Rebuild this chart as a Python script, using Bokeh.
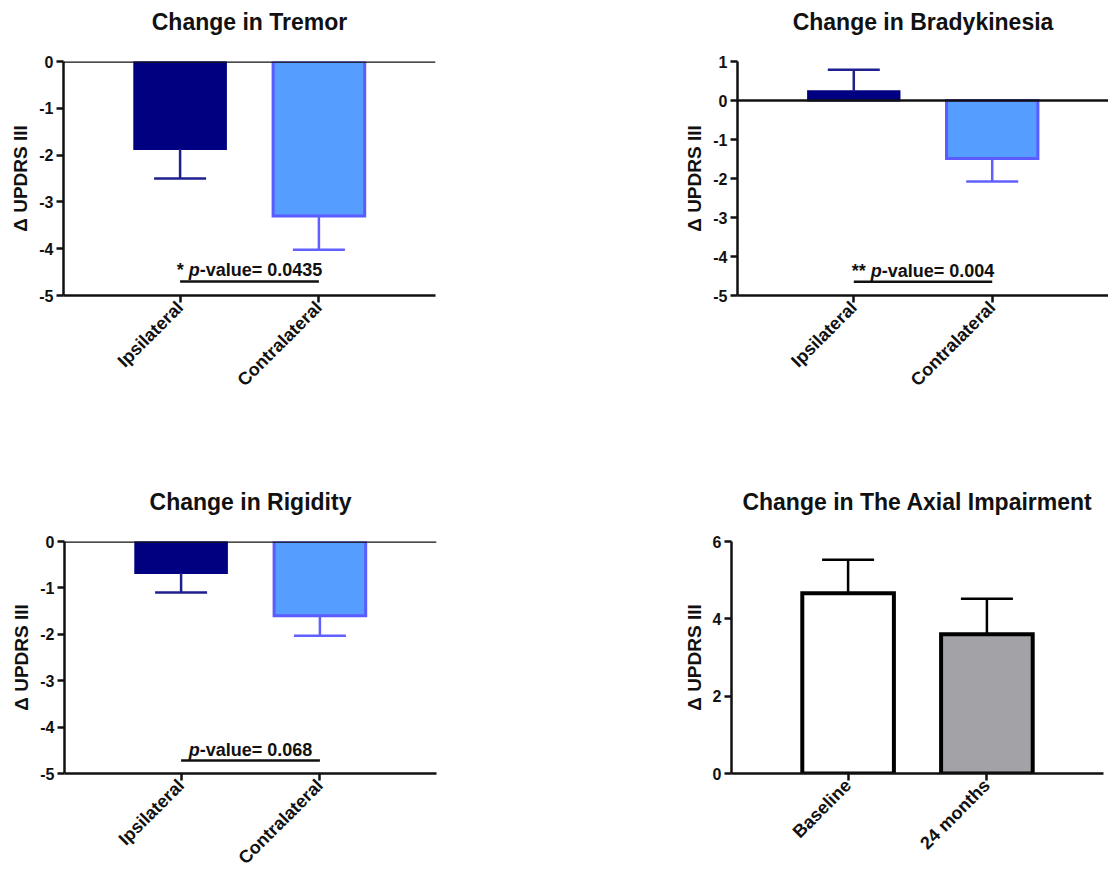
import math

from bokeh.core.properties import value
from bokeh.embed import file_html
from bokeh.layouts import column, row
from bokeh.models import (ColumnDataSource, FactorRange, FixedTicker, Range1d,
                          Span, TeeHead, Title, Whisker)
from bokeh.plotting import figure
from bokeh.resources import INLINE

FONT = "Liberation Sans"

# ---- data -------------------------------------------------------------
sides = ["Ipsilateral", "Contralateral"]

tremor_mean = [-1.87, -3.30]
tremor_sem = [0.63, 0.72]

brady_mean = [0.24, -1.49]
brady_sem = [0.55, 0.59]

rigidity_mean = [-0.68, -1.60]
rigidity_sem = [0.42, 0.43]

visits = ["Baseline", "24 months"]
axial_mean = [4.66, 3.60]
axial_sem = [0.87, 0.92]

# significance marker and p-value printed over each side comparison
tremor_p = ("*", "0.0435")
brady_p = ("**", "0.004")
rigidity_p = ("", "0.068")

tremor_ticks = [0, -1, -2, -3, -4, -5]
brady_ticks = [1, 0, -1, -2, -3, -4, -5]
rigidity_ticks = [0, -1, -2, -3, -4, -5]
axial_ticks = [0, 2, 4, 6]

# ---- styles -----------------------------------------------------------
SIDE_FILL = ["#000080", "#559dff"]
SIDE_LINE = ["#000080", "#5b5bff"]
SIDE_LW = [2, 3]
SIDE_ERR = ["#1f1f8f", "#6060ff"]

VISIT_FILL = ["#ffffff", "#a3a3a7"]
VISIT_LINE = ["#000000", "#000000"]
VISIT_LW = [4, 4]
VISIT_ERR = ["#000000", "#000000"]

# approximate advance widths (em) of Liberation Sans Bold, for laying out
# the mixed upright / italic p-value caption
EM = {c: 0.556 for c in "0123456789"}
EM.update({".": 0.278, "-": 0.333, "v": 0.556, "a": 0.556, "l": 0.278,
           "u": 0.611, "e": 0.556, "=": 0.584, " ": 0.278, "*": 0.389,
           "p": 0.611})


def text_width(s, size):
    return sum(EM.get(c, 0.556) for c in s) * size


def make_panel(title, cats, means, sems, y_lo, y_hi, ticks, fills, lines,
               lws, errs, width, height, borders, zero_line=True):
    left, right, top, bottom = borders
    p = figure(
        title=None,
        x_range=FactorRange(factors=cats, range_padding=0.34,
                            range_padding_units="absolute"),
        y_range=Range1d(y_lo, y_hi),
        width=width, height=height,
        min_border_left=left, min_border_right=right,
        min_border_top=top, min_border_bottom=bottom,
        output_backend="svg", toolbar_location=None, tools="",
    )
    p.outline_line_color = None
    p.xgrid.visible = False
    p.ygrid.visible = False

    # an empty title next to the plot area keeps the heading up in the margin
    p.add_layout(Title(text=" ", text_font_size="20px", standoff=2), "above")
    p.add_layout(Title(text=title, standoff=2, align="center", text_font=FONT,
                       text_font_style="bold", text_font_size="23px",
                       text_color="#111111"), "above")

    for ax in (p.xaxis[0], p.yaxis[0]):
        ax.axis_line_width = 2.5
        ax.axis_line_color = "#111111"
        ax.major_tick_line_width = 2.5
        ax.major_tick_line_color = "#111111"
        ax.major_tick_out = 7
        ax.major_tick_in = 0
        ax.minor_tick_line_color = None
        ax.major_label_text_font = FONT
        ax.major_label_text_font_style = "bold"
        ax.major_label_text_color = "#111111"

    p.yaxis.ticker = FixedTicker(ticks=ticks)
    # plain hyphen-minus for negative tick labels
    p.yaxis.major_label_overrides = {t: "%d" % t for t in ticks}
    p.yaxis.major_label_text_font_size = "16px"
    p.yaxis.major_label_standoff = 3
    p.yaxis.axis_label = "\u0394 UPDRS III"
    p.yaxis.axis_label_text_font = FONT
    p.yaxis.axis_label_text_font_style = "bold"
    p.yaxis.axis_label_text_font_size = "19px"
    p.yaxis.axis_label_text_color = "#111111"
    p.yaxis.axis_label_standoff = 5

    p.xaxis.major_label_orientation = math.pi / 4
    p.xaxis.major_label_text_font_size = "18px"
    p.xaxis.major_label_standoff = 2

    src = ColumnDataSource(dict(x=cats, top=means, fill=fills, line=lines,
                                lw=lws))
    p.vbar(x="x", top="top", bottom=0, width=0.66, source=src,
           fill_color="fill", line_color="line", line_width="lw",
           line_join="miter")

    # one-sided SEM whiskers pointing away from zero
    for cat, m, s, col in zip(cats, means, sems, errs):
        if m >= 0:
            lo, hi = m, m + s
        else:
            lo, hi = m - s, m
        wsrc = ColumnDataSource(dict(x=[cat], lower=[lo], upper=[hi]))
        head = TeeHead(size=52, line_color=col, line_width=2.5)
        w = Whisker(base="x", lower="lower", upper="upper", source=wsrc,
                    dimension="height", line_color=col, line_width=2.5,
                    level="overlay")
        if m >= 0:
            w.upper_head = head
            w.lower_head = None
        else:
            w.lower_head = head
            w.upper_head = None
        p.add_layout(w)

    if zero_line:
        p.add_layout(Span(location=0, dimension="width", line_color="#111111",
                          line_width=2.5))
    return p


def add_pvalue(p, cats, y, stars, pval, size=18):
    """Bracket between the two sides with '<stars> p-value= <pval>' above."""
    p.segment(x0=[cats[0]], x1=[cats[-1]], y0=[y], y1=[y],
              line_color="#111111", line_width=2.5)
    star_txt = stars + " " if stars else ""
    rest = "-value= " + pval
    w_star = text_width(star_txt, size)
    w_p = text_width("p", size)
    total = w_star + w_p + text_width(rest, size)
    x0 = -total / 2
    centre = (len(cats)) / 2.0  # synthetic coordinate midway between the two factors
    common = dict(y=[y], y_offset=-11, text_font=value(FONT),
                  text_font_size="%dpx" % size, text_color="#111111",
                  text_align="left", text_baseline="alphabetic")
    if star_txt:
        p.text(x=[centre], text=[star_txt], x_offset=x0,
               text_font_style="bold", **common)
    p.text(x=[centre], text=["p"], x_offset=x0 + w_star,
           text_font_style="bold italic", **common)
    p.text(x=[centre], text=[rest], x_offset=x0 + w_star + w_p,
           text_font_style="bold", **common)


p1 = make_panel("Change in Tremor", sides, tremor_mean, tremor_sem, -5, 0,
                tremor_ticks, SIDE_FILL, SIDE_LINE, SIDE_LW, SIDE_ERR,
                554, 480, (63, 119, 61, 185))
add_pvalue(p1, sides, -4.70, *tremor_p)

p2 = make_panel("Change in Bradykinesia", sides, brady_mean, brady_sem, -5, 1,
                brady_ticks, SIDE_FILL, SIDE_LINE, SIDE_LW, SIDE_ERR,
                554, 480, (183, 0, 61, 184))
add_pvalue(p2, sides, -4.65, *brady_p)

p3 = make_panel("Change in Rigidity", sides, rigidity_mean, rigidity_sem, -5, 0,
                rigidity_ticks, SIDE_FILL, SIDE_LINE, SIDE_LW, SIDE_ERR,
                554, 398, (64, 118, 61, 102))
add_pvalue(p3, sides, -4.72, *rigidity_p)

p4 = make_panel("Change in The Axial Impairment", visits, axial_mean, axial_sem,
                0, 6, axial_ticks, VISIT_FILL, VISIT_LINE, VISIT_LW, VISIT_ERR,
                554, 398, (177, 5, 61, 102), zero_line=False)

layout = column(row(p1, p2), row(p3, p4))

with open("out.html", "w") as f:
    f.write(file_html(layout, INLINE))
